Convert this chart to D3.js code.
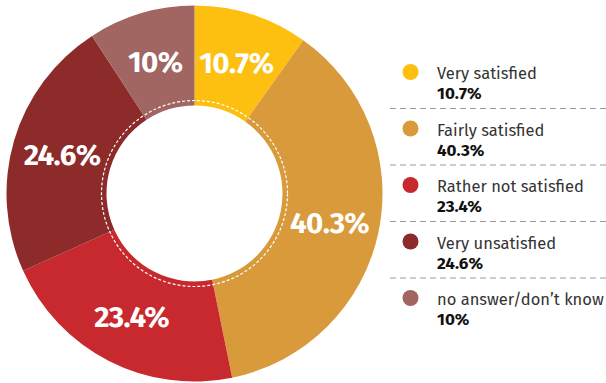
<!DOCTYPE html>
<html>
<head>
<meta charset="utf-8">
<script src="https://cdn.jsdelivr.net/npm/d3@7"></script>
<style>
  body { margin: 0; background: #fff; }
  svg { display: block; }
</style>
</head>
<body>
<svg id="chart" width="606" height="383"></svg>
<script>
var categories = ["Very satisfied", "Fairly satisfied", "Rather not satisfied", "Very unsatisfied", "no answer/don\u2019t know"];
var values = [10.7, 40.3, 23.4, 24.6, 10];
var valueLabels = ["10.7%", "40.3%", "23.4%", "24.6%", "10%"];
var colors = ["#fdc010", "#d89a3b", "#c8292e", "#8d2a2a", "#a16562"];

var fontFam = "'Fira Sans', 'Open Sans', 'Noto Sans', sans-serif";

var svg = d3.select("#chart");

var cx = 194.5, cy = 193.5;
var rOuter = 188, rInner = 88;

var pie = d3.pie().sort(null).value(function(d){ return d; });
var arc = d3.arc().innerRadius(rInner).outerRadius(rOuter);
var labelArc = d3.arc().innerRadius(138).outerRadius(138);

var g = svg.append("g").attr("transform", "translate(" + cx + "," + cy + ")");

var arcs = pie(values);

g.selectAll("path.slice")
    .data(arcs)
    .enter()
    .append("path")
    .attr("class", "slice")
    .attr("d", arc)
    .attr("fill", function(d, i){ return colors[i]; });

// dashed white ring just outside the hole
g.append("circle")
    .attr("r", 93)
    .attr("fill", "none")
    .attr("stroke", "#fff")
    .attr("stroke-width", 1.2)
    .attr("stroke-dasharray", "3,2");

g.selectAll("text.pct")
    .data(arcs)
    .enter()
    .append("text")
    .attr("class", "pct")
    .attr("x", function(d){ return labelArc.centroid(d)[0]; })
    .attr("y", function(d){ return labelArc.centroid(d)[1]; })
    .attr("dy", "0.36em")
    .attr("text-anchor", "middle")
    .attr("fill", "#fff")
    .attr("font-family", fontFam)
    .attr("font-weight", "bold")
    .attr("font-size", "29.5px")
    .attr("letter-spacing", "-0.6px")
    .text(function(d, i){ return valueLabels[i]; });

// legend
var legY = d3.scalePoint().domain(categories).range([72, 298]);
var leg = svg.append("g");

var items = leg.selectAll("g.item")
    .data(categories)
    .enter()
    .append("g")
    .attr("class", "item")
    .attr("transform", function(d){ return "translate(0," + legY(d) + ")"; });

items.append("circle")
    .attr("cx", 410.5)
    .attr("cy", 0)
    .attr("r", 8)
    .attr("fill", function(d, i){ return colors[i]; });

items.append("text")
    .attr("x", 437)
    .attr("y", 7)
    .attr("font-family", fontFam)
    .attr("font-size", "16.5px")
    .attr("fill", "#333")
    .text(function(d){ return d; });

items.append("text")
    .attr("x", 437)
    .attr("y", 27)
    .attr("font-family", fontFam)
    .attr("font-weight", "bold")
    .attr("font-size", "17px")
    .attr("fill", "#111")
    .text(function(d, i){ return valueLabels[i]; });

items.filter(function(d, i){ return i < categories.length - 1; })
    .append("line")
    .attr("x1", 390)
    .attr("x2", 606)
    .attr("y1", 36.5)
    .attr("y2", 36.5)
    .attr("stroke", "#9a9a9a")
    .attr("stroke-width", 1)
    .attr("stroke-dasharray", "6,4");
</script>
</body>
</html>
